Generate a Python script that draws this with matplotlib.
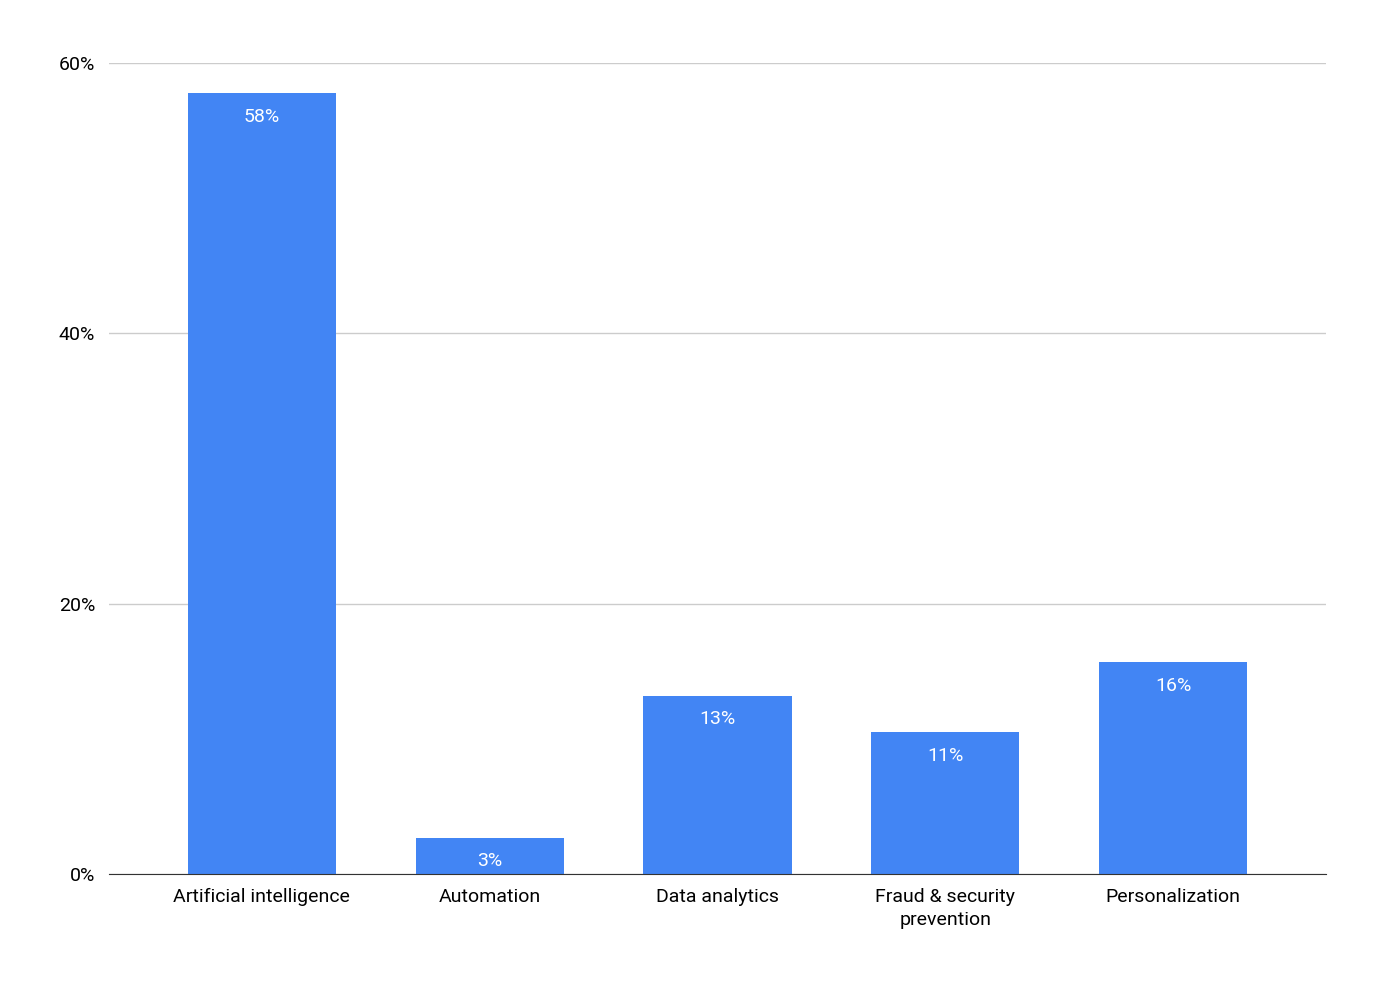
import matplotlib.pyplot as plt

categories = ["Artificial intelligence", "Automation", "Data analytics",
              "Fraud & security\nprevention", "Personalization"]
values = [57.8, 2.7, 13.2, 10.5, 15.7]
labels = ["58%", "3%", "13%", "11%", "16%"]
yticks = [0, 20, 40, 60]

plt.rcParams["font.family"] = "Roboto"
fig = plt.figure(figsize=(13.76, 9.92), dpi=100)
ax = fig.add_axes([109 / 1376, 1 - 874 / 992, 1217 / 1376, 811 / 992])

x = list(range(len(categories)))
ax.bar(x, values, width=0.65, color="#4285f4", zorder=3)
for xi, v, lab in zip(x, values, labels):
    ax.text(xi, v - 1.1, lab, ha="center", va="top", color="white", fontsize=14, zorder=4)

ax.set_xlim(-0.67, 4.67)
ax.set_ylim(0, 60)
ax.set_yticks(yticks)
ax.set_yticklabels([f"{t}%" for t in yticks], fontsize=14)
ax.set_xticks(x)
ax.set_xticklabels(categories, fontsize=14, linespacing=1.4)
ax.grid(axis="y", color="#cccccc", linewidth=1, zorder=0)
ax.tick_params(length=0, pad=10)
for s in ["top", "right", "left"]:
    ax.spines[s].set_visible(False)
ax.spines["bottom"].set_color("#333333")
ax.spines["bottom"].set_zorder(5)

fig.savefig("out.png", dpi=100)
